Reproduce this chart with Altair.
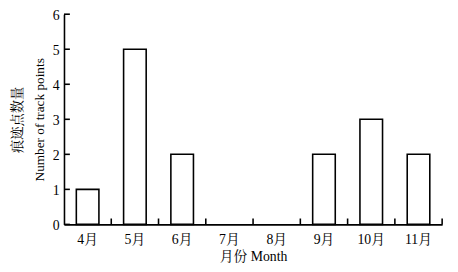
import altair as alt
import pandas as pd

months = ["4月", "5月", "6月", "7月", "8月", "9月", "10月", "11月"]
counts = [1, 5, 2, 0, 0, 2, 3, 2]
y_ticks = [0, 1, 2, 3, 4, 5, 6]

df = pd.DataFrame({"month": months, "count": counts})
ticks_df = pd.DataFrame({"v": y_ticks})

FONT = "'Times New Roman', 'Liberation Serif', 'Noto Serif CJK SC', 'Noto Sans CJK SC'"

xscale = alt.Scale(domain=months, paddingInner=0, paddingOuter=0)
yscale = alt.Scale(domain=[0, 6], nice=False)

xaxis = alt.Axis(title="月份 Month", labelAngle=0, ticks=False, labelPadding=8,
                 titlePadding=4, domainColor="black", domainWidth=1.6)
yaxis = alt.Axis(title=["痕迹点数量", "Number of track points"], values=y_ticks,
                 ticks=False, labelPadding=5, titlePadding=6, grid=False,
                 labelOverlap=False, labelFlush=False, labelOffset=1,
                 titleFontSize=13.5,
                 domainColor="black", domainWidth=1.6, titleLineHeight=22)

bars = alt.Chart(df).transform_filter(alt.datum["count"] > 0).mark_bar(
    size=23, fill="white", stroke="black", strokeWidth=1.6).encode(
    x=alt.X("month:N", scale=xscale, sort=months, axis=xaxis),
    y=alt.Y("count:Q", scale=yscale, axis=yaxis),
)

xticks = alt.Chart(df).mark_rule(color="black", strokeWidth=1.6).encode(
    x=alt.X("month:N", scale=xscale, sort=months, bandPosition=1, axis=xaxis),
    y=alt.value(214),
    y2=alt.value(208),
)

yticks = alt.Chart(ticks_df).mark_rule(color="black", strokeWidth=1.6).encode(
    y=alt.Y("v:Q", scale=yscale, axis=yaxis),
    x=alt.value(0),
    x2=alt.value(6),
)

chart = alt.layer(bars, xticks, yticks).properties(
    width=385, height=214,
    autosize=alt.AutoSizeParams(type="none"),
    padding={"left": 57, "top": 4, "right": 8, "bottom": 38},
).configure_view(stroke=None).configure_axis(
    labelFont=FONT, titleFont=FONT, labelFontSize=14, titleFontSize=14,
    labelColor="black", titleColor="black", titleFontWeight="normal", grid=False,
)

chart.save("out.html", embed_options={"renderer": "svg", "actions": False})
